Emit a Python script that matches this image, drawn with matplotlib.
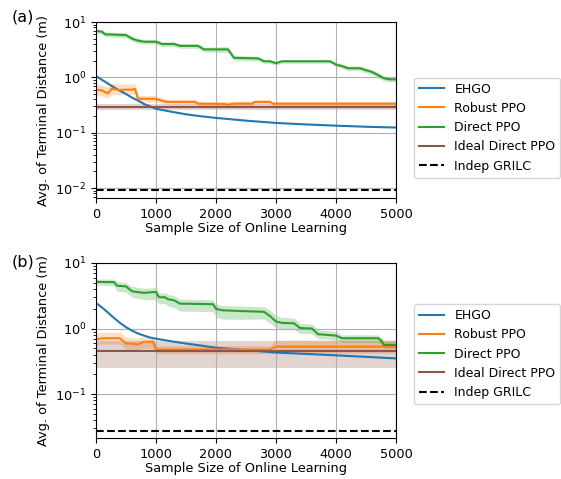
import matplotlib
matplotlib.use("Agg")
import matplotlib.pyplot as plt

plt.rcParams['font.family'] = ['DejaVu Sans']
plt.rcParams['font.size'] = 9.3

# ---------------- Panel (a) ----------------
ehgo_a_x = [0, 100, 200, 300, 400, 500, 600, 700, 800, 900, 1000, 1250, 1500, 1750, 2000, 2500, 3000, 3500, 4000, 4500, 5000]
ehgo_a_y = [1.06, 0.90, 0.77, 0.66, 0.57, 0.50, 0.43, 0.38, 0.33, 0.30, 0.27, 0.24, 0.215, 0.198, 0.185, 0.165, 0.150, 0.141, 0.134, 0.128, 0.124]

robust_a_x = [0, 100, 200, 260, 400, 500, 600, 650, 700, 980, 1180, 1650, 1700, 2150, 2200, 2300, 2600, 2650, 2900, 2950, 5000]
robust_a_y = [0.60, 0.58, 0.51, 0.62, 0.59, 0.60, 0.60, 0.62, 0.41, 0.41, 0.36, 0.36, 0.335, 0.33, 0.32, 0.335, 0.335, 0.36, 0.36, 0.335, 0.335]
robust_a_lo = [0.47, 0.46, 0.42, 0.50, 0.48, 0.49, 0.49, 0.50, 0.36, 0.36, 0.33, 0.33, 0.305, 0.30, 0.28, 0.305, 0.305, 0.33, 0.33, 0.31, 0.31]
robust_a_hi = [0.75, 0.73, 0.66, 0.78, 0.76, 0.76, 0.76, 0.78, 0.47, 0.47, 0.40, 0.40, 0.37, 0.365, 0.355, 0.37, 0.37, 0.39, 0.39, 0.365, 0.365]

direct_a_x = [0, 100, 150, 500, 600, 700, 800, 1000, 1100, 1300, 1400, 1700, 1800, 2200, 2300, 2700, 2800, 2900, 3000, 3100, 3900, 4000, 4100, 4200, 4400, 4500, 4600, 4700, 4800, 4900, 5000]
direct_a_y = [6.9, 6.7, 6.0, 5.8, 5.0, 4.6, 4.4, 4.4, 4.0, 4.0, 3.7, 3.7, 3.2, 3.2, 2.25, 2.2, 1.95, 1.95, 1.8, 1.95, 1.95, 1.7, 1.6, 1.46, 1.46, 1.35, 1.25, 1.10, 0.96, 0.92, 0.92]
direct_a_lo = [6.3, 6.1, 5.4, 5.2, 4.5, 4.1, 4.0, 4.0, 3.6, 3.6, 3.35, 3.35, 2.9, 2.8, 2.0, 2.0, 1.8, 1.8, 1.65, 1.8, 1.8, 1.55, 1.45, 1.33, 1.33, 1.22, 1.12, 0.98, 0.86, 0.83, 0.83]
direct_a_hi = [7.4, 7.3, 6.6, 6.4, 5.5, 5.1, 4.8, 4.8, 4.4, 4.4, 4.1, 4.1, 3.5, 3.6, 2.5, 2.4, 2.1, 2.1, 1.95, 2.1, 2.1, 1.85, 1.75, 1.6, 1.6, 1.48, 1.38, 1.22, 1.06, 1.01, 1.01]

ideal_a = 0.29
ideal_a_lo = 0.26
ideal_a_hi = 0.325
grilc_a = 0.0092

# ---------------- Panel (b) ----------------
ehgo_b_x = [0, 100, 200, 300, 400, 500, 600, 700, 800, 900, 1000, 1250, 1500, 1750, 2000, 2500, 3000, 3500, 4000, 4500, 5000]
ehgo_b_y = [2.45, 2.10, 1.75, 1.45, 1.22, 1.05, 0.93, 0.84, 0.78, 0.73, 0.70, 0.64, 0.59, 0.55, 0.51, 0.47, 0.43, 0.41, 0.39, 0.37, 0.35]

robust_b_x = [0, 100, 400, 500, 600, 700, 800, 950, 1000, 2900, 3000, 5000]
robust_b_y = [0.68, 0.71, 0.71, 0.59, 0.59, 0.57, 0.63, 0.63, 0.48, 0.48, 0.53, 0.53]
robust_b_lo = [0.56, 0.58, 0.58, 0.48, 0.48, 0.47, 0.50, 0.50, 0.41, 0.41, 0.42, 0.42]
robust_b_hi = [0.84, 0.88, 0.88, 0.74, 0.72, 0.72, 0.74, 0.74, 0.55, 0.55, 0.67, 0.67]

direct_b_x = [0, 300, 350, 500, 600, 800, 950, 1000, 1050, 1150, 1200, 1300, 1400, 1950, 2000, 2100, 2400, 2800, 2900, 3000, 3100, 3300, 3400, 3600, 3700, 4000, 4100, 4700, 4750, 4800, 5000]
direct_b_y = [5.15, 5.10, 4.50, 4.40, 3.70, 3.50, 3.60, 3.60, 3.00, 3.00, 2.80, 2.70, 2.40, 2.35, 2.00, 1.90, 1.85, 1.80, 1.55, 1.28, 1.22, 1.20, 1.02, 1.00, 0.82, 0.78, 0.71, 0.71, 0.66, 0.56, 0.56]
direct_b_lo = [4.60, 4.50, 3.70, 3.60, 3.00, 2.75, 2.75, 2.75, 2.40, 2.40, 2.20, 2.10, 1.85, 1.80, 1.50, 1.40, 1.38, 1.40, 1.20, 1.02, 0.98, 0.96, 0.85, 0.83, 0.70, 0.67, 0.62, 0.62, 0.58, 0.50, 0.50]
direct_b_hi = [5.70, 5.70, 5.20, 5.00, 4.40, 4.10, 4.20, 4.20, 3.50, 3.50, 3.30, 3.20, 2.80, 2.75, 2.35, 2.25, 2.20, 2.15, 1.90, 1.58, 1.48, 1.45, 1.20, 1.17, 0.95, 0.91, 0.80, 0.80, 0.75, 0.64, 0.64]

ideal_b = 0.46
ideal_b_lo = 0.25
ideal_b_hi = 0.65
grilc_b = 0.0275

labels = ['EHGO', 'Robust PPO', 'Direct PPO', 'Ideal Direct PPO', 'Indep GRILC']
x_range = [0, 5000]

C_BLUE, C_ORANGE, C_GREEN, C_BROWN = '#1f77b4', '#ff7f0e', '#2ca02c', '#8c564b'

fig = plt.figure(figsize=(5.61, 4.79), dpi=100)
ax_a = fig.add_axes([96/561, 1-198/479, 300/561, 176/479])
ax_b = fig.add_axes([96/561, 1-438/479, 300/561, 175/479])


def draw(ax, ehx, ehy, rx, ry, rlo, rhi, dx, dy, dlo, dhi, ideal, ilo, ihi, grilc, ylim, leg_y):
    ax.plot(ehx, ehy, color=C_BLUE, lw=1.5, label=labels[0])
    ax.fill_between(rx, rlo, rhi, color=C_ORANGE, alpha=0.25, lw=0)
    ax.plot(rx, ry, color=C_ORANGE, lw=1.5, label=labels[1])
    ax.fill_between(dx, dlo, dhi, color=C_GREEN, alpha=0.25, lw=0)
    ax.plot(dx, dy, color=C_GREEN, lw=1.5, label=labels[2])
    ax.fill_between(x_range, [ilo, ilo], [ihi, ihi], color=C_BROWN, alpha=0.25, lw=0)
    ax.plot(x_range, [ideal, ideal], color=C_BROWN, lw=1.5, label=labels[3])
    ax.plot(x_range, [grilc, grilc], color='black', ls='--', lw=1.5, label=labels[4])
    ax.set_yscale('log')
    ax.set_xlim(0, 5000)
    ax.set_ylim(*ylim)
    ax.set_xticks([0, 1000, 2000, 3000, 4000, 5000])
    ax.grid(True, which='major', color='#b0b0b0', lw=0.8)
    ax.set_xlabel('Sample Size of Online Learning', labelpad=1)
    ax.set_ylabel('Avg. of Terminal Distance (m)')
    ax.legend(loc='center left', bbox_to_anchor=(1.04, leg_y), fontsize=9)


draw(ax_a, ehgo_a_x, ehgo_a_y, robust_a_x, robust_a_y, robust_a_lo, robust_a_hi,
     direct_a_x, direct_a_y, direct_a_lo, direct_a_hi, ideal_a, ideal_a_lo, ideal_a_hi,
     grilc_a, (10**-2.18, 10), 0.40)
draw(ax_b, ehgo_b_x, ehgo_b_y, robust_b_x, robust_b_y, robust_b_lo, robust_b_hi,
     direct_b_x, direct_b_y, direct_b_lo, direct_b_hi, ideal_b, ideal_b_lo, ideal_b_hi,
     grilc_b, (10**-1.67, 10), 0.48)

fig.text(12/561, 1-17/479, '(a)', fontsize=11.5, va='center', ha='left')
fig.text(12/561, 1-262/479, '(b)', fontsize=11.5, va='center', ha='left')

fig.savefig('out.png', dpi=100)
